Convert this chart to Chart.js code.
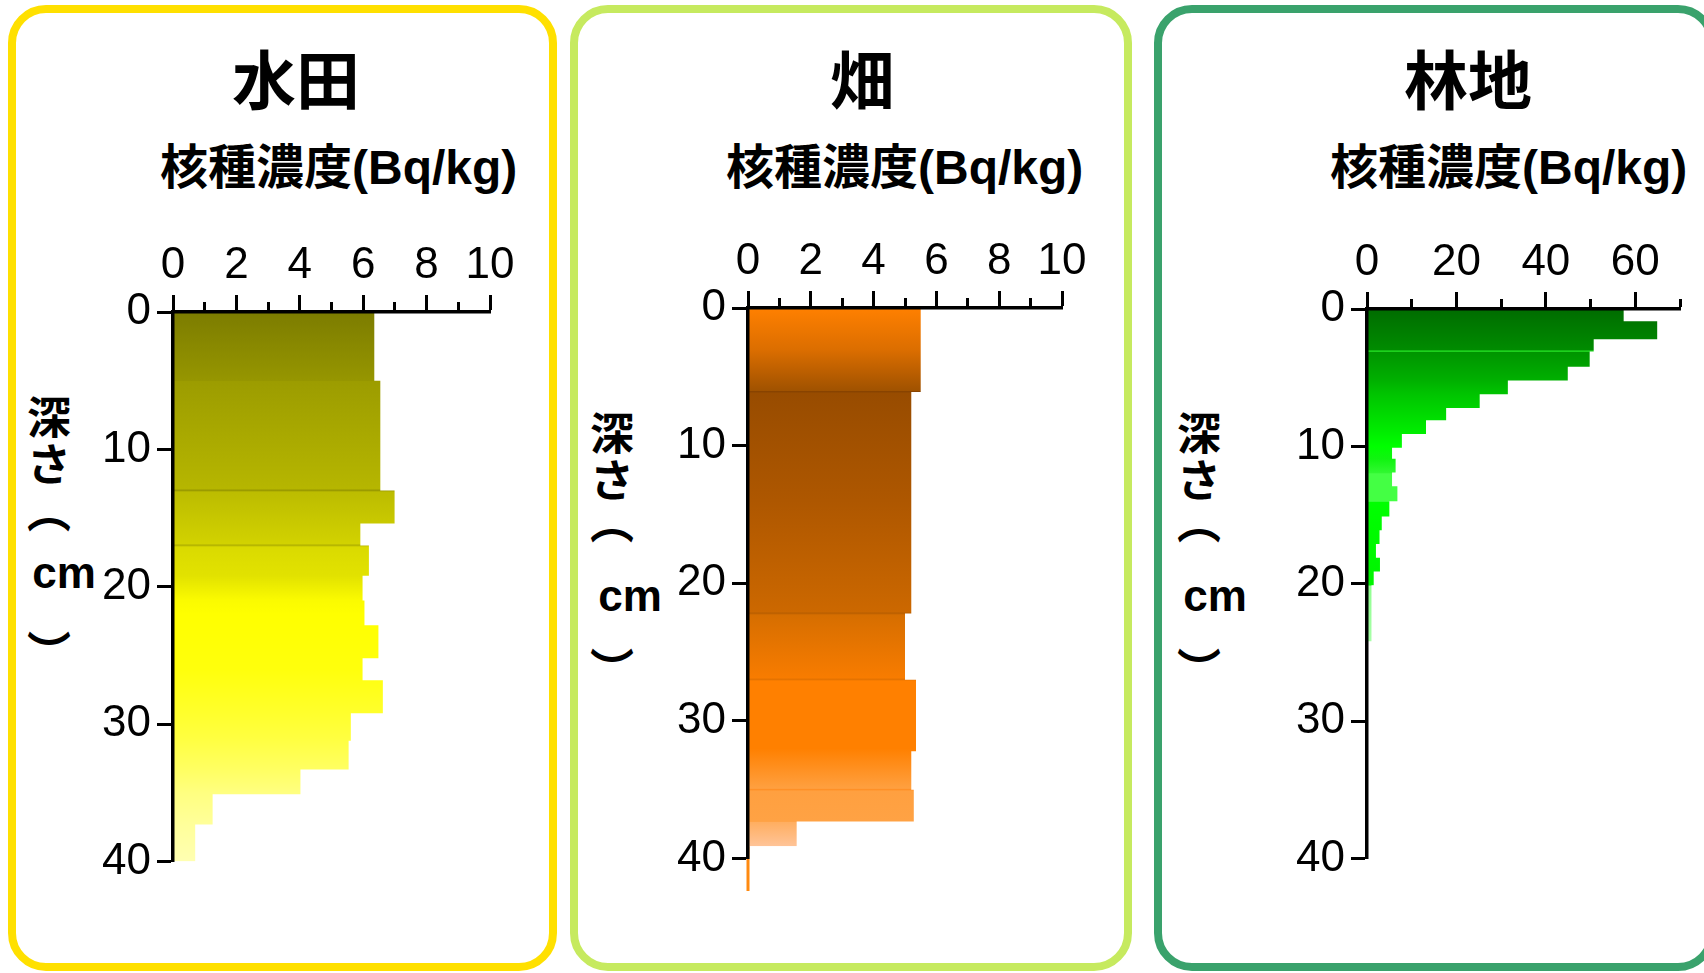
<!DOCTYPE html>
<html lang="ja">
<head>
<meta charset="utf-8">
<title>深さ別の核種濃度</title>
<script src="https://cdn.jsdelivr.net/npm/chart.js@4.4.0/dist/chart.umd.min.js"></script>
<style>
  html, body { margin: 0; padding: 0; background: #fff; }
  body { width: 1704px; height: 973px; position: relative; overflow: hidden;
         font-family: "Liberation Sans", "Noto Sans CJK JP", sans-serif; color: #000; }
  .panel { position: absolute; top: 5px; height: 966px; box-sizing: border-box;
           border: 8px solid; border-radius: 38px; }
  .txt { position: absolute; line-height: 1; white-space: nowrap; font-weight: bold; }
  .title { font-size: 64px; font-family: "Noto Sans CJK JP", sans-serif; transform: translate(-50%, -50%); }
  .unit { font-size: 48px; transform: translate(0, -50%); }
  .ych { font-size: 44px; transform: translate(-50%, -50%); font-family: "Noto Sans CJK JP", sans-serif; }
  .ycm { font-size: 44px; transform: translate(-50%, -50%); }
  canvas { position: absolute; }
</style>
</head>
<body>
<div class="panel" style="left:8px;width:549px;border-color:#ffe000"></div>
<div class="panel" style="left:570px;width:562px;border-color:#c6ea5f"></div>
<div class="panel" style="left:1154px;width:562px;border-color:#3aa26c"></div>

<div class="txt title" style="left:296px;top:76px">水田</div>
<div class="txt title" style="left:862px;top:76px">畑</div>
<div class="txt title" style="left:1468px;top:76px">林地</div>

<div class="txt unit" style="left:160px;top:168px">核種濃度(Bq/kg)</div>
<div class="txt unit" style="left:726px;top:168px">核種濃度(Bq/kg)</div>
<div class="txt unit" style="left:1330px;top:168px">核種濃度(Bq/kg)</div>

<div class="txt ych" style="left:49px;top:415px">深</div>
<div class="txt ych" style="left:49px;top:462px">さ</div>
<div class="txt ych" style="left:49px;top:509px">︵</div>
<div class="txt ycm" style="left:64px;top:573px">cm</div>
<div class="txt ych" style="left:49px;top:650px">︶</div>

<div class="txt ych" style="left:612px;top:431px">深</div>
<div class="txt ych" style="left:612px;top:478px">さ</div>
<div class="txt ych" style="left:612px;top:520px">︵</div>
<div class="txt ycm" style="left:630px;top:596px">cm</div>
<div class="txt ych" style="left:612px;top:667px">︶</div>

<div class="txt ych" style="left:1199px;top:431px">深</div>
<div class="txt ych" style="left:1199px;top:478px">さ</div>
<div class="txt ych" style="left:1199px;top:520px">︵</div>
<div class="txt ycm" style="left:1215px;top:596px">cm</div>
<div class="txt ych" style="left:1199px;top:667px">︶</div>

<canvas id="paddy"></canvas>
<canvas id="field"></canvas>
<canvas id="forest"></canvas>

<script>
// layer boundaries (depth, cm) and concentration per layer (Bq/kg)
const paddyDepth = [0, 5, 13, 15.4, 17, 19.2, 21, 22.8, 25.2, 26.8, 29.2, 31.2, 33.3, 35.1, 37.3, 40];
const paddyConc  = [6.35, 6.54, 6.99, 5.91, 6.18, 5.98, 6.04, 6.48, 5.98, 6.62, 5.61, 5.54, 4.02, 1.25, 0.7];

const fieldDepth = [0, 6.1, 22.2, 27, 32.2, 35, 37.3, 39.1];
const fieldConc  = [5.5, 5.2, 5.0, 5.35, 5.2, 5.28, 1.55];
const fieldTailDepth = [39.1, 43];
const fieldTailConc  = [0, 0];

const forestDepth = [0, 0.9, 2.2, 3.1, 4.2, 5.2, 6.2, 7.2, 8.1, 9.1, 10.1, 10.9, 11.9, 12.9, 14, 15.1, 16.1, 17.1, 18.1, 19.1, 20.1, 24.2];
const forestConc  = [57.4, 64.9, 50.7, 49.8, 44.9, 31.5, 25.2, 17.7, 13.2, 7.8, 5.6, 6.4, 5.6, 6.8, 5.0, 3.3, 2.8, 2.0, 2.9, 1.5, 1.0];

const depthTicks = [0, 10, 20, 30, 40];

// colour stops down the profile [depth, colour]
const paddyShade = [[0, '#7c7c00'], [5, '#969600'], [5.01, '#9c9c00'], [12.9, '#b6b600'], [12.95, '#8e8e00'], [13.1, '#bcbc00'],
  [16.9, '#d2d200'], [16.95, '#a8a800'], [17.1, '#dada00'], [19.2, '#e2e200'], [21, '#fbfb00'], [22, '#ffff00'],
  [26, '#ffff0c'], [29, '#ffff2a'], [31, '#ffff40'], [33.3, '#ffff62'], [35, '#ffff80'], [37.3, '#ffff9a'], [40, '#ffffb2']];
const fieldShade = [[0, '#ff8000'], [3, '#dc6e00'], [6.0, '#a05200'], [6.05, '#864200'], [6.2, '#984c00'], [14, '#ae5700'],
  [22.1, '#cc6800'], [22.15, '#b45c00'], [22.3, '#d66e00'], [26.9, '#f87c00'], [26.95, '#dc6e00'], [27.1, '#ff8000'],
  [32, '#ff8000'], [34.9, '#ffa040'], [34.95, '#ff8c20'], [35.1, '#ffa040'], [37.3, '#ffa244'], [37.35, '#ffae60'], [39.1, '#ffc498']];
const forestShade = [[0, '#006c00'], [3.0, '#008c00'], [3.05, '#33ff33'], [3.15, '#009400'], [5.2, '#00b000'], [6.2, '#00c400'],
  [9, '#00ee00'], [10, '#00ff00'], [10.9, '#10f410'], [11.9, '#30f830'], [12, '#44ff44'], [14, '#44ff44'], [14.05, '#00ff00'],
  [20.1, '#00f400'], [20.15, '#90ff90'], [24.2, '#a8ffa8']];

const tickFont = { family: "'Liberation Sans Narrow', 'Liberation Sans', sans-serif", size: 44 };

function stepPoints(depth, conc) {
  const pts = [];
  conc.forEach((v, i) => { pts.push({ x: v, y: depth[i] }); pts.push({ x: v, y: depth[i + 1] }); });
  return pts;
}

function shade(stops) {
  return function (ctx) {
    const chart = ctx.chart;
    if (!chart.chartArea) return null;
    const y = chart.scales.y;
    const y0 = y.getPixelForValue(0), y1 = y.getPixelForValue(45);
    const g = chart.ctx.createLinearGradient(0, y0, 0, y1);
    stops.forEach(s => g.addColorStop(Math.min(1, Math.max(0, s[0] / 45)), s[1]));
    return g;
  };
}

function makeChart(id, area, xMax, xStep, datasets) {
  const cv = document.getElementById(id);
  const yW = 80, xH = 70, padR = 30, padB = 30;
  cv.width = yW + area.right - area.left + padR;
  cv.height = xH + area.bottom - area.top + padB;
  cv.style.left = (area.left - yW) + 'px';
  cv.style.top = (area.top - xH) + 'px';
  return new Chart(cv, {
    type: 'line',
    data: { datasets: datasets },
    options: {
      indexAxis: 'y',
      responsive: false,
      animation: false,
      events: [],
      layout: { padding: { left: 0, top: 0, right: padR, bottom: padB } },
      elements: { point: { radius: 0, hoverRadius: 0 }, line: { tension: 0 } },
      plugins: { legend: { display: false }, tooltip: { enabled: false } },
      scales: {
        x: {
          type: 'linear', position: 'top', min: 0, max: xMax,
          afterFit: s => { s.height = xH; },
          ticks: {
            stepSize: xStep, autoSkip: false, maxRotation: 0, padding: 3, color: '#000', font: tickFont, z: 1,
            callback: v => (Math.round(v / xStep) % 2 === 0 ? String(v) : '')
          },
          grid: {
            drawOnChartArea: false, tickLength: 17, tickWidth: 3, tickColor: '#000', z: 1,
            tickBorderDash: c => (c.tick && Math.round(c.tick.value / xStep) % 2 ? [0, 7, 10, 100] : [])
          },
          border: { color: '#000', width: 3.5, z: 1 }
        },
        y: {
          type: 'linear', position: 'left', reverse: true, min: 0, max: 40,
          afterFit: s => { s.width = yW; },
          afterBuildTicks: s => { s.ticks = depthTicks.map(v => ({ value: v })); },
          ticks: { padding: 6, color: '#000', font: tickFont, z: 1 },
          grid: { drawOnChartArea: false, tickLength: 16, tickWidth: 3, tickColor: '#000', z: 1 },
          border: { color: '#000', width: 3.5, z: 1 }
        }
      }
    }
  });
}

function layer(depth, conc, stops) {
  return { data: stepPoints(depth, conc), fill: 'origin', backgroundColor: shade(stops),
           borderWidth: 0, borderColor: 'rgba(0,0,0,0)', pointRadius: 0 };
}

makeChart('paddy', { left: 172.5, top: 311.5, right: 490, bottom: 864 }, 10, 1,
  [layer(paddyDepth, paddyConc, paddyShade)]);

makeChart('field', { left: 747.5, top: 308, right: 1062, bottom: 861 }, 10, 1, [
  layer(fieldDepth, fieldConc, fieldShade),
  { data: fieldTailDepth.map((d, i) => ({ x: fieldTailConc[i], y: d })), fill: false, clip: false,
    borderColor: '#ff8a10', borderWidth: 3, pointRadius: 0 }
]);

makeChart('forest', { left: 1366.7, top: 308.5, right: 1680, bottom: 861 }, 70, 10,
  [layer(forestDepth, forestConc, forestShade)]);
</script>
</body>
</html>
